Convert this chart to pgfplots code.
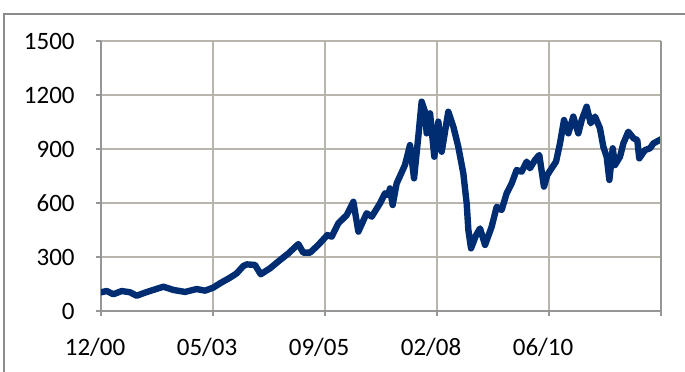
\documentclass[border=0pt]{standalone}
\usepackage{pgfplots}
\pgfplotsset{compat=1.18}
\usepackage{fontspec}
\setmainfont{Carlito}
\definecolor{linecol}{RGB}{0,45,114}
\definecolor{gridcol}{RGB}{185,180,172}
\definecolor{axcol}{RGB}{150,150,150}
\definecolor{framecol}{RGB}{140,140,140}
\begin{document}
\begin{tikzpicture}
\useasboundingbox (-50.5pt,-30pt) rectangle (292pt,155.5pt);
\clip (-50.5pt,-30pt) rectangle (292pt,155.5pt);
\draw[framecol, line width=1pt] (-48.5pt,-40pt) rectangle (300pt,148.5pt);
\begin{axis}[
  at={(0,0)}, anchor=south west,
  scale only axis, width=280pt, height=135pt,
  xmin=0, xmax=5, ymin=0, ymax=1500,
  xtick={0,1,2,3,4,5}, xticklabels={12/00,05/03,09/05,02/08,06/10,},
  ytick={0,300,600,900,1200,1500},
  grid=major,
  major grid style={gridcol, line width=1.3pt},
  axis line style={axcol, line width=1.3pt},
  tick style={axcol, line width=1.3pt},
  tick align=outside, major tick length=2.5pt,
  axis x line*=bottom, axis y line*=left,
  tick label style={font=\fontsize{12.5}{14}\selectfont, black},
  /pgf/number format/assume math mode=true,
  /pgf/number format/1000 sep={},
  yticklabel style={anchor=east, inner sep=0pt, xshift=-10.5pt},
  xticklabel style={anchor=north, inner sep=0pt, yshift=-11pt, xshift=-3pt},
]
\addplot[linecol, line width=3.2pt, line join=round, line cap=round] coordinates {
(0,104) (0.051,111) (0.11,93) (0.185,111) (0.259,104) (0.319,85) (0.393,102)
(0.467,117) (0.557,135) (0.646,117) (0.75,106) (0.854,122) (0.929,113)
(1.003,130) (1.063,154) (1.152,185) (1.211,209) (1.271,250) (1.301,259)
(1.375,256) (1.426,204) (1.509,237) (1.598,283) (1.673,320) (1.762,372)
(1.806,324) (1.866,324) (1.940,367) (2.021,422) (2.060,413) (2.119,487)
(2.194,533) (2.253,607) (2.298,441) (2.372,543) (2.417,524) (2.491,598)
(2.536,654) (2.565,644) (2.580,681) (2.604,589) (2.640,709) (2.714,811)
(2.759,922) (2.795,737) (2.833,968) (2.863,1163) (2.893,1107) (2.908,987)
(2.938,1098) (2.976,857) (3.012,1052) (3.042,885) (3.101,1107) (3.146,1024)
(3.190,913) (3.235,765) (3.265,598) (3.280,450) (3.304,348) (3.348,420)
(3.384,459) (3.429,367) (3.488,468) (3.533,579) (3.577,561) (3.622,654)
(3.667,709) (3.711,783) (3.756,774) (3.801,830) (3.830,793) (3.875,839)
(3.913,867) (3.955,691) (3.985,756) (4.024,793) (4.063,830) (4.098,931)
(4.134,1061) (4.173,987) (4.217,1080) (4.262,987) (4.292,1061) (4.336,1135)
(4.372,1043) (4.411,1080) (4.455,1015) (4.485,913) (4.515,857) (4.539,728)
(4.569,904) (4.589,811) (4.634,857) (4.664,931) (4.708,996) (4.756,959)
(4.788,950) (4.806,848) (4.857,894) (4.902,904) (4.932,931) (5.0,954)
};
\end{axis}
\draw[axcol, line width=1.3pt] (280pt,0) -- (280pt,135pt);
\end{tikzpicture}
\end{document}
